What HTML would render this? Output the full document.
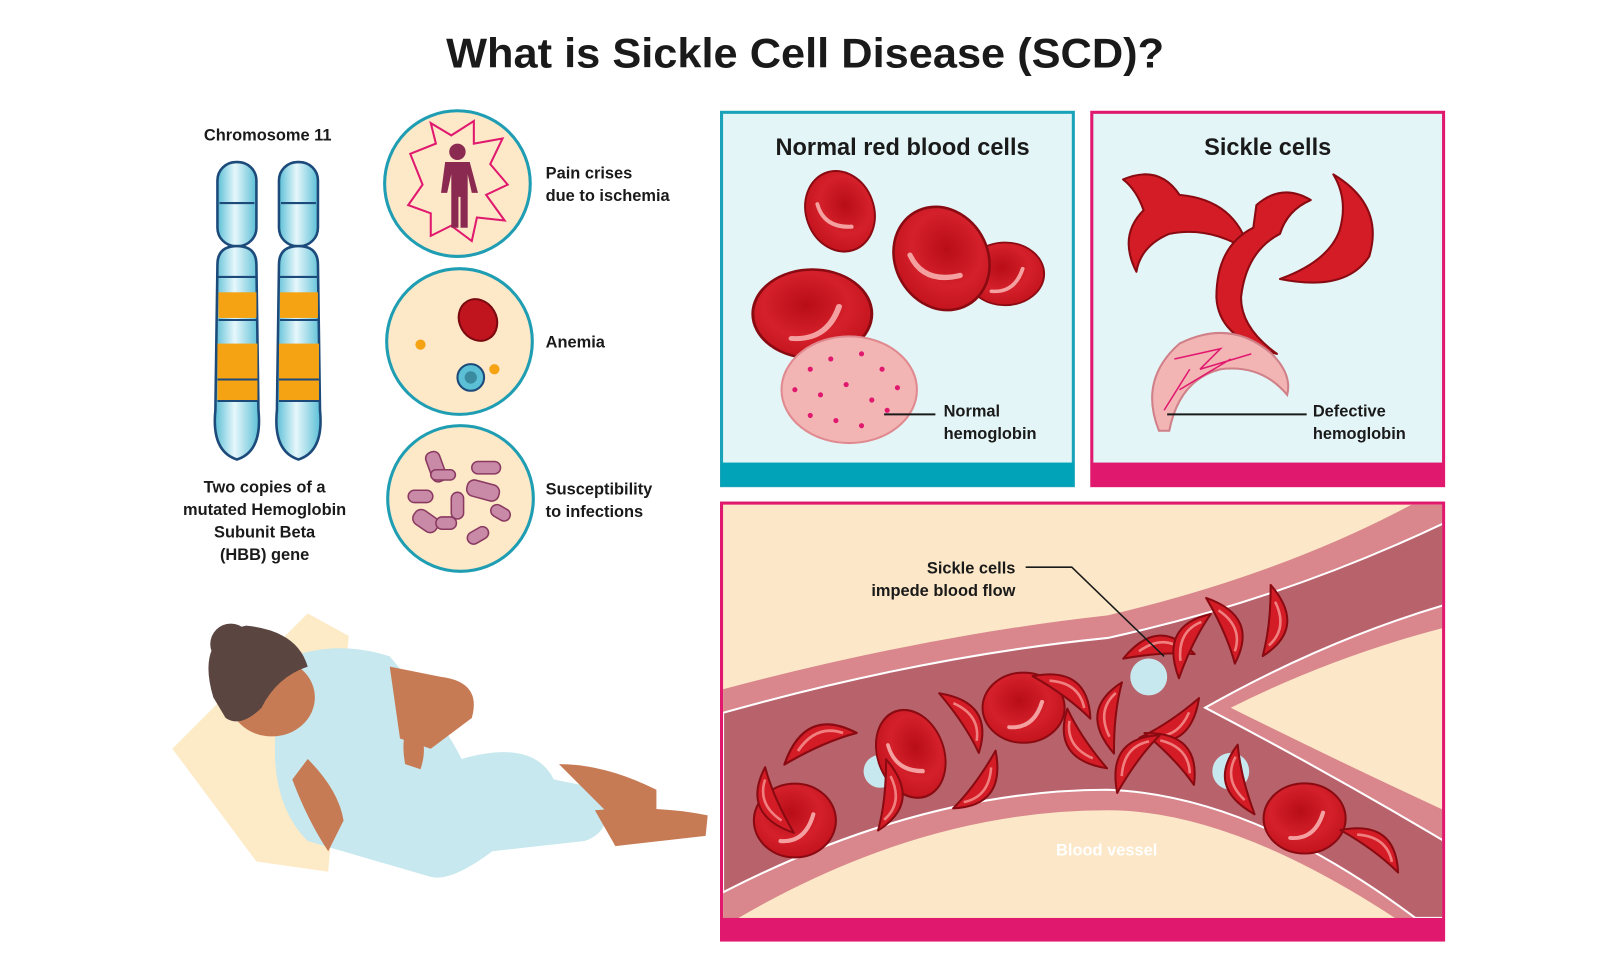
<!DOCTYPE html>
<html><head><meta charset="utf-8"><style>
html,body{margin:0;padding:0;background:#fff;width:1600px;height:960px;overflow:hidden}
svg{display:block}
text{font-family:"Liberation Sans",sans-serif;font-weight:bold;fill:#1a1a1a}
</style></head><body>
<svg width="1600" height="960" viewBox="0 0 1560 936" preserveAspectRatio="none" xmlns="http://www.w3.org/2000/svg">
<defs>
<radialGradient id="rbc" cx="0.45" cy="0.4" r="0.6"><stop offset="0" stop-color="#b80d18"/><stop offset="0.6" stop-color="#d4202a"/><stop offset="1" stop-color="#c4141e"/></radialGradient>
<g id="cell"><ellipse cx="0" cy="0" rx="40" ry="36" fill="url(#rbc)" stroke="#8a0a12" stroke-width="2"/><path d="M-14 20 Q10 22 18 -6" stroke="#f4a0a0" stroke-width="4" fill="none" stroke-linecap="round"/></g>
<g id="sk"><path d="M-32 14 Q-14 -38 32 -14 Q2 -6 -32 14Z" fill="#d41c26" stroke="#8a0a12" stroke-width="2" stroke-linejoin="round"/><path d="M-20 2 Q-4 -22 20 -14" stroke="#f08080" stroke-width="2.5" fill="none"/></g>
<linearGradient id="chr" x1="0" x2="1"><stop offset="0" stop-color="#5bbfd6"/><stop offset="0.45" stop-color="#e6f7fb"/><stop offset="1" stop-color="#5bbfd6"/></linearGradient>
</defs>

<text x="785" y="66" font-size="41" text-anchor="middle" textLength="700" lengthAdjust="spacingAndGlyphs">What is Sickle Cell Disease (SCD)?</text>

<!-- chromosomes -->
<text x="261" y="137" font-size="16" text-anchor="middle">Chromosome 11</text>
<g stroke="#1c4a7a" stroke-width="2.5">
<rect x="212" y="158" width="38" height="82" rx="18" fill="url(#chr)"/>
<path d="M212 258 Q212 240 231 240 Q250 240 250 258 L252 400 Q256 440 231 448 Q206 440 210 400Z" fill="url(#chr)"/>
<rect x="272" y="158" width="38" height="82" rx="18" fill="url(#chr)"/>
<path d="M272 258 Q272 240 291 240 Q310 240 310 258 L312 400 Q316 440 291 448 Q266 440 270 400Z" fill="url(#chr)"/>
</g>
<g fill="#f5a313"><rect x="213" y="285" width="37" height="25"/><rect x="212" y="335" width="39" height="56"/><rect x="273" y="285" width="37" height="25"/><rect x="272" y="335" width="39" height="56"/></g>
<g stroke="#1c4a7a" stroke-width="2"><line x1="214" y1="198" x2="248" y2="198"/><line x1="274" y1="198" x2="308" y2="198"/><line x1="213" y1="270" x2="250" y2="270"/><line x1="273" y1="270" x2="310" y2="270"/><line x1="213" y1="312" x2="250" y2="312"/><line x1="273" y1="312" x2="310" y2="312"/><line x1="212" y1="370" x2="251" y2="370"/><line x1="272" y1="370" x2="311" y2="370"/><line x1="212" y1="391" x2="252" y2="391"/><line x1="272" y1="391" x2="312" y2="391"/></g>
<g font-size="16" text-anchor="middle"><text x="258" y="480">Two copies of a</text><text x="258" y="502">mutated Hemoglobin</text><text x="258" y="524">Subunit Beta</text><text x="258" y="546">(HBB) gene</text></g>

<!-- circles -->
<g stroke="#1e9db3" stroke-width="3" fill="#fde8c8">
<circle cx="446" cy="179" r="71"/><circle cx="448" cy="333" r="71"/><circle cx="449" cy="486" r="71"/></g>
<path d="M400 150 L425 140 L420 120 L440 132 L462 118 L462 140 L490 135 L478 160 L495 180 L474 190 L492 215 L465 212 L460 235 L440 220 L420 230 L420 208 L398 200 L412 180 Z" fill="none" stroke="#e0196e" stroke-width="2"/>
<g fill="#8a2a50"><circle cx="446" cy="148" r="8"/><path d="M434 158 h24 l8 30 h-6 l-4-18 v52 h-7 v-30 h-2 v30 h-7 v-52 l-4 18 h-6z"/></g>
<ellipse cx="466" cy="312" rx="18" ry="21" transform="rotate(-30 466 312)" fill="#c0141e" stroke="#7a0a10" stroke-width="2"/>
<circle cx="459" cy="368" r="13" fill="#5bbfd6" stroke="#1c4a7a" stroke-width="2"/><circle cx="459" cy="368" r="6" fill="#3a8aa0"/>
<circle cx="410" cy="336" r="5" fill="#f5a313"/><circle cx="482" cy="360" r="5" fill="#f5a313"/>
<g fill="#c98aa8" stroke="#8a3a60" stroke-width="1.5">
<rect x="418" y="440" width="14" height="30" rx="6" transform="rotate(-20 425 455)"/><rect x="460" y="450" width="28" height="12" rx="6"/><rect x="455" y="470" width="32" height="16" rx="7" transform="rotate(15 470 478)"/><rect x="398" y="478" width="24" height="12" rx="6"/><rect x="440" y="480" width="12" height="26" rx="6"/><rect x="402" y="500" width="26" height="16" rx="7" transform="rotate(35 415 508)"/><rect x="425" y="504" width="20" height="12" rx="6"/><rect x="478" y="494" width="20" height="12" rx="6" transform="rotate(30 488 500)"/><rect x="455" y="516" width="22" height="12" rx="6" transform="rotate(-30 466 522)"/><rect x="420" y="458" width="24" height="10" rx="5"/></g>
<g font-size="16"><text x="532" y="174">Pain crises</text><text x="532" y="196">due to ischemia</text><text x="532" y="339">Anemia</text><text x="532" y="482">Susceptibility</text><text x="532" y="504">to infections</text></g>

<!-- normal box -->
<rect x="703.5" y="109.5" width="343" height="364" fill="#e3f5f7" stroke="#1aa3b8" stroke-width="3"/>
<rect x="703" y="451" width="344" height="23" fill="#00a3b8"/>
<text x="880" y="151" font-size="23" text-anchor="middle">Normal red blood cells</text>
<use href="#cell" transform="translate(819,206) rotate(70) scale(1,0.92)"/>
<use href="#cell" transform="translate(980,267) scale(0.95,0.85)"/>
<use href="#cell" transform="translate(918,252) rotate(60) scale(1.3,1.25)"/>
<use href="#cell" transform="translate(792,306) scale(1.45,1.2)"/>
<ellipse cx="828" cy="380" rx="66" ry="52" fill="#f3b4b4" stroke="#e08a90" stroke-width="2"/>
<g fill="#e0196e"><circle cx="790" cy="360" r="2.5"/><circle cx="810" cy="350" r="2.5"/><circle cx="840" cy="345" r="2.5"/><circle cx="860" cy="360" r="2.5"/><circle cx="800" cy="385" r="2.5"/><circle cx="825" cy="375" r="2.5"/><circle cx="850" cy="390" r="2.5"/><circle cx="875" cy="378" r="2.5"/><circle cx="790" cy="405" r="2.5"/><circle cx="815" cy="410" r="2.5"/><circle cx="840" cy="415" r="2.5"/><circle cx="865" cy="400" r="2.5"/><circle cx="775" cy="380" r="2.5"/></g>
<line x1="862" y1="404" x2="912" y2="404" stroke="#1a1a1a" stroke-width="2"/>
<g font-size="16"><text x="920" y="406">Normal</text><text x="920" y="428">hemoglobin</text></g>

<!-- sickle box -->
<rect x="1064.5" y="109.5" width="343" height="364" fill="#e3f5f7" stroke="#e0196e" stroke-width="3"/>
<rect x="1064" y="451" width="344" height="23" fill="#e0196e"/>
<text x="1236" y="151" font-size="23" text-anchor="middle">Sickle cells</text>
<g fill="#d41c26" stroke="#8a0a12" stroke-width="2" stroke-linejoin="round">
<path d="M1095 175 Q1130 160 1150 190 Q1205 195 1218 245 Q1180 220 1140 228 Q1112 240 1108 265 Q1090 230 1115 205 Q1108 185 1095 175Z"/>
<path d="M1225 200 Q1250 178 1278 195 Q1255 205 1248 228 Q1215 245 1210 290 Q1210 320 1245 345 Q1188 330 1186 290 Q1186 240 1222 222Z"/>
<path d="M1300 170 Q1350 200 1335 250 Q1312 285 1248 272 Q1295 255 1306 225 Q1315 195 1300 170Z"/>
</g>
<path d="M1130 420 Q1110 370 1150 335 Q1200 310 1240 345 Q1260 365 1255 385 Q1230 355 1190 360 Q1150 370 1140 420Z" fill="#f3b4b4" stroke="#d08088" stroke-width="2"/>
<path d="M1145 350 L1190 340 L1170 360 L1220 345 M1150 380 L1200 350 M1135 400 L1160 360" stroke="#e0196e" stroke-width="1.5" fill="none"/>
<line x1="1138" y1="404" x2="1274" y2="404" stroke="#1a1a1a" stroke-width="2"/>
<g font-size="16"><text x="1280" y="406">Defective</text><text x="1280" y="428">hemoglobin</text></g>

<!-- vessel panel -->
<rect x="703.5" y="490.5" width="704" height="426" fill="#fce8c8" stroke="#e0196e" stroke-width="3"/>
<clipPath id="vp"><rect x="705" y="492" width="701" height="403"/></clipPath>
<g clip-path="url(#vp)">
<path d="M705 672 Q900 620 1080 600 Q1250 560 1380 490 L1408 490 L1408 612 Q1300 640 1200 690 Q1300 740 1408 790 L1408 895 L1360 895 Q1200 790 1080 790 Q900 790 720 895 L705 895Z" fill="#d9868c"/>
<path d="M705 695 Q900 640 1080 622 Q1250 585 1408 510 L1408 590 Q1290 625 1175 690 Q1290 750 1408 820 L1408 895 L1380 895 Q1220 775 1080 770 Q900 770 705 870Z" fill="#b8636b" stroke="#fff" stroke-width="2"/>
</g>
<rect x="703" y="895" width="705" height="23" fill="#e0196e"/>
<g fill="#c6e8ee"><circle cx="858" cy="752" r="16"/><circle cx="1120" cy="660" r="18"/><circle cx="1200" cy="752" r="18"/></g>
<use href="#cell" transform="translate(775,800) scale(1,1)"/>
<use href="#cell" transform="translate(888,735) rotate(70) scale(1.1,0.9)"/>
<use href="#cell" transform="translate(998,690) scale(1,0.95)"/>
<use href="#cell" transform="translate(1272,798) scale(1,0.95)"/>
<use href="#sk" transform="translate(800,730) scale(1.1)"/>
<use href="#sk" transform="translate(760,780) rotate(-90)"/>
<use href="#sk" transform="translate(860,775) rotate(120)"/>
<use href="#sk" transform="translate(935,705) rotate(80)"/>
<use href="#sk" transform="translate(950,760) rotate(150)"/>
<use href="#sk" transform="translate(1035,680) rotate(60)"/>
<use href="#sk" transform="translate(1060,720) rotate(-100)"/>
<use href="#sk" transform="translate(1090,700) rotate(-60)"/>
<use href="#sk" transform="translate(1130,640) rotate(20)"/>
<use href="#sk" transform="translate(1165,630) rotate(-40)"/>
<use href="#sk" transform="translate(1190,615) rotate(90)"/>
<use href="#sk" transform="translate(1235,605) rotate(120)"/>
<use href="#sk" transform="translate(1140,700) rotate(170)"/>
<use href="#sk" transform="translate(1140,740) rotate(70)"/>
<use href="#sk" transform="translate(1110,745) rotate(-30)"/>
<use href="#sk" transform="translate(1215,760) rotate(-80)"/>
<use href="#sk" transform="translate(1335,830) rotate(60)"/>
<polyline points="1000,553 1045,553 1135,640" fill="none" stroke="#1a1a1a" stroke-width="1.5"/>
<g font-size="16" text-anchor="end"><text x="990" y="559">Sickle cells</text><text x="990" y="581">impede blood flow</text></g>
<text x="1079" y="834" font-size="16" text-anchor="middle" style="fill:#fff">Blood vessel</text>

<!-- woman -->
<path d="M168 730 L300 598 L340 620 L320 850 L250 840Z" fill="#fdebc8"/>
<path d="M260 650 Q320 620 380 640 Q430 700 450 740 Q520 720 540 760 L590 770 Q600 810 570 820 L480 830 Q440 860 420 855 L300 820 Q260 780 270 700Z" fill="#c6e8ee"/>
<path d="M380 650 L430 660 Q470 665 460 700 L420 730 L390 720Z" fill="#c77b55"/>
<path d="M545 745 Q590 745 640 770 L640 790 L590 790Z" fill="#c77b55"/>
<path d="M580 790 Q640 785 690 795 L688 815 L600 825Z" fill="#c77b55"/>
<path d="M300 740 Q330 770 335 800 L320 830 Q300 800 285 760Z" fill="#c77b55"/>
<path d="M400 700 Q420 720 410 750 L395 745 Q390 720 400 700Z" fill="#c77b55"/>
<ellipse cx="265" cy="680" rx="42" ry="38" fill="#c77b55"/>
<path d="M208 680 Q190 620 240 610 Q290 615 300 650 Q270 660 255 690 Q235 710 220 700Z" fill="#5a4540"/>
<circle cx="225" cy="628" r="20" fill="#5a4540"/>
</svg>
</body></html>
